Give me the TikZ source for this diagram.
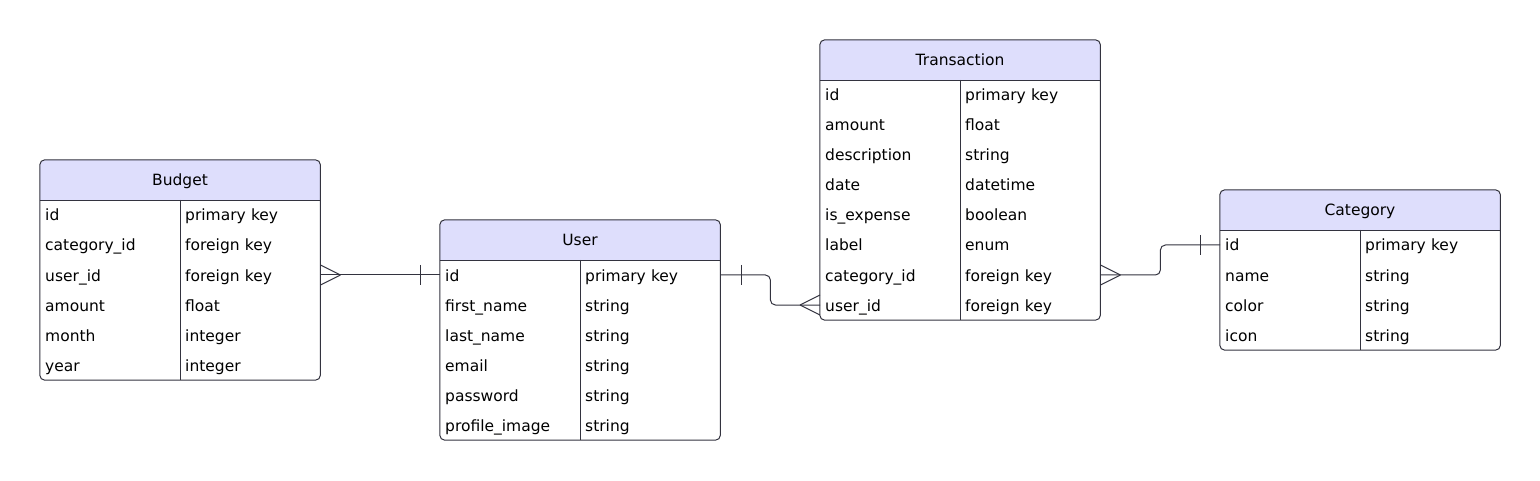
\documentclass[tikz,border=0pt]{standalone}
\usepackage{fontspec}
\setmainfont{DejaVu Sans}
\definecolor{headcol}{HTML}{DEDEFC}
\definecolor{edgecol}{HTML}{33333F}
\tikzset{
  head/.style={minimum width=280pt, minimum height=40pt, inner sep=0pt, text height=12pt, text depth=0pt, fill=headcol, rounded corners=5pt},
  cell/.style={anchor=west, text width=130pt, inner xsep=5pt, inner ysep=0pt, minimum height=30pt, align=left, text height=12pt, text depth=0pt},
  frame/.style={draw=edgecol, line width=1pt, rounded corners=5pt},
  grid/.style={draw=edgecol, line width=1pt},
  link/.style={draw=edgecol, line width=1pt},
}
\begin{document}
\begin{tikzpicture}[x=1pt, y=-1pt, font=\fontsize{15.5pt}{18pt}\selectfont]
\useasboundingbox (0,0) rectangle (1540,481);
% Budget
\node[head] (budget) at (180,180) {Budget};
\fill[headcol] ([yshift=6pt]budget.south west) rectangle (budget.south east);
\foreach \f/\t [count=\i] in {id/primary key, category\_id/foreign key, user\_id/foreign key, amount/float, month/integer, year/integer} {
  \node[cell] (budget-f\i) at (40,{185+30*\i}) {\f};
  \node[cell] (budget-t\i) at (180,{185+30*\i}) {\t};
}
\draw[frame] (budget.north west) rectangle (budget-t6.south east);
\draw[grid] (budget.south west) -- (budget.south east);
\draw[grid] (budget-t1.north west) -- (budget-t6.south west);
% User
\node[head] (user) at (580,240) {User};
\fill[headcol] ([yshift=6pt]user.south west) rectangle (user.south east);
\foreach \f/\t [count=\i] in {id/primary key, first\_name/string, last\_name/string, email/string, password/string, profile\_image/string} {
  \node[cell] (user-f\i) at (440,{245+30*\i}) {\f};
  \node[cell] (user-t\i) at (580,{245+30*\i}) {\t};
}
\draw[frame] (user.north west) rectangle (user-t6.south east);
\draw[grid] (user.south west) -- (user.south east);
\draw[grid] (user-t1.north west) -- (user-t6.south west);
% Transaction
\node[head] (trans) at (960,60) {Transaction};
\fill[headcol] ([yshift=6pt]trans.south west) rectangle (trans.south east);
\foreach \f/\t [count=\i] in {id/primary key, amount/float, description/string, date/datetime, is\_expense/boolean, label/enum, category\_id/foreign key, user\_id/foreign key} {
  \node[cell] (trans-f\i) at (820,{65+30*\i}) {\f};
  \node[cell] (trans-t\i) at (960,{65+30*\i}) {\t};
}
\draw[frame] (trans.north west) rectangle (trans-t8.south east);
\draw[grid] (trans.south west) -- (trans.south east);
\draw[grid] (trans-t1.north west) -- (trans-t8.south west);
% Category
\node[head] (cat) at (1360,210) {Category};
\fill[headcol] ([yshift=6pt]cat.south west) rectangle (cat.south east);
\foreach \f/\t [count=\i] in {id/primary key, name/string, color/string, icon/string} {
  \node[cell] (cat-f\i) at (1220,{215+30*\i}) {\f};
  \node[cell] (cat-t\i) at (1360,{215+30*\i}) {\t};
}
\draw[frame] (cat.north west) rectangle (cat-t4.south east);
\draw[grid] (cat.south west) -- (cat.south east);
\draw[grid] (cat-t1.north west) -- (cat-t4.south west);
% relations
\draw[link] (budget-t3.east) -- (user-f1.west);
\draw[link] ([xshift=20pt]budget-t3.east) -- ++(-20,-10) ([xshift=20pt]budget-t3.east) -- ++(-20,10);
\draw[link] ([xshift=-20pt]user-f1.west) ++(0,-10) -- ++(0,20);
\draw[link, rounded corners=5pt] (user-t1.east) -- ++(50,0) |- (trans-f8.west);
\draw[link] ([xshift=21pt]user-t1.east) ++(0,-10) -- ++(0,20);
\draw[link] ([xshift=-20pt]trans-f8.west) -- ++(20,-10) ([xshift=-20pt]trans-f8.west) -- ++(20,10);
\draw[link, rounded corners=5pt] (trans-t7.east) -- ++(60,0) |- (cat-f1.west);
\draw[link] ([xshift=20pt]trans-t7.east) -- ++(-20,-10) ([xshift=20pt]trans-t7.east) -- ++(-20,10);
\draw[link] ([xshift=-20pt]cat-f1.west) ++(0,-10) -- ++(0,20);
\end{tikzpicture}
\end{document}
